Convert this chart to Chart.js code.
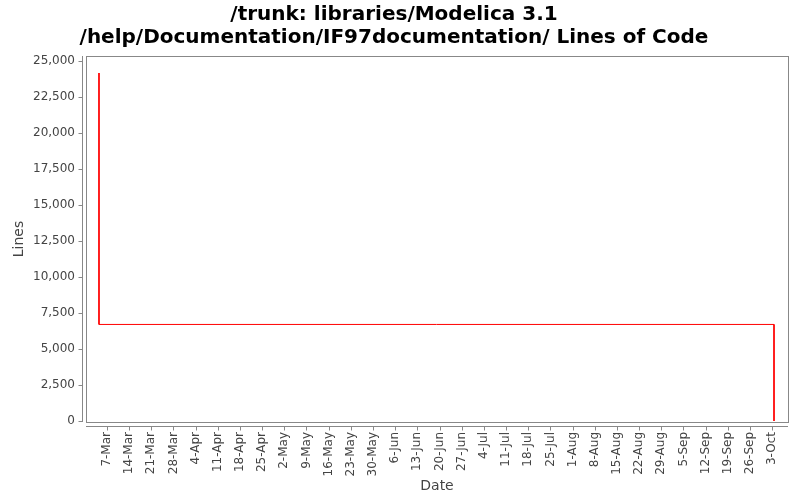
<!DOCTYPE html>
<html>
<head>
<meta charset="utf-8">
<script src="https://cdn.jsdelivr.net/npm/chart.js@4.4.1/dist/chart.umd.min.js"></script>
<style>
  html, body { margin: 0; padding: 0; background: #fff; }
  #wrap { width: 800px; height: 500px; }
</style>
</head>
<body>
<div id="wrap"><canvas id="loc"></canvas></div>
<script>
const titleLines = ['/trunk: libraries/Modelica 3.1', '/help/Documentation/IF97documentation/ Lines of Code'];
const pointDates = ['2009-03-04T12:00Z', '2009-03-04T12:00Z', '2009-10-03T14:00Z', '2009-10-03T14:00Z'];
const lineCounts = [24150, 6700, 6700, 0];
const tickLabels = ['7-Mar', '14-Mar', '21-Mar', '28-Mar', '4-Apr', '11-Apr', '18-Apr', '25-Apr',
  '2-May', '9-May', '16-May', '23-May', '30-May', '6-Jun', '13-Jun', '20-Jun', '27-Jun',
  '4-Jul', '11-Jul', '18-Jul', '25-Jul', '1-Aug', '8-Aug', '15-Aug', '22-Aug', '29-Aug',
  '5-Sep', '12-Sep', '19-Sep', '26-Sep', '3-Oct'];
const yTicks = [0, 2500, 5000, 7500, 10000, 12500, 15000, 17500, 20000, 22500, 25000];

const year = 2009;
const months = { Jan: 0, Feb: 1, Mar: 2, Apr: 3, May: 4, Jun: 5, Jul: 6, Aug: 7, Sep: 8, Oct: 9, Nov: 10, Dec: 11 };
const origin = Date.UTC(year, 2, 7);
const DAY = 864e5;

// dates become day offsets from 7-Mar
const toDay = (ms) => (ms - origin) / DAY;
const labelDay = (lbl) => {
  const [d, m] = lbl.split('-');
  return toDay(Date.UTC(year, months[m], +d));
};
const tickDays = tickLabels.map(labelDay);
const points = pointDates.map((d, i) => ({ x: toDay(Date.parse(d)), y: lineCounts[i] }));

const axisGray = '#888888';
const textGray = '#444444';

// plot frame plus detached axis lines with outward tick marks
const framePlugin = {
  id: 'frame',
  afterDraw(chart) {
    const { ctx, chartArea: a, scales } = chart;
    ctx.save();
    ctx.strokeStyle = axisGray;
    ctx.lineWidth = 1;
    ctx.strokeRect(Math.round(a.left) + 0.5, Math.round(a.top) + 0.5,
      Math.round(a.right - a.left), Math.round(a.bottom - a.top));

    const yx = Math.round(a.left) - 4 + 0.5;
    ctx.beginPath();
    ctx.moveTo(yx, a.top);
    ctx.lineTo(yx, a.bottom);
    scales.y.ticks.forEach(t => {
      const py = Math.round(scales.y.getPixelForValue(t.value)) + 0.5;
      ctx.moveTo(yx - 4, py);
      ctx.lineTo(yx, py);
    });
    const xy = Math.round(a.bottom) + 4 + 0.5;
    ctx.moveTo(a.left, xy);
    ctx.lineTo(a.right, xy);
    scales.x.ticks.forEach(t => {
      const px = Math.round(scales.x.getPixelForValue(t.value)) + 0.5;
      ctx.moveTo(px, xy);
      ctx.lineTo(px, xy + 4);
    });
    ctx.stroke();
    ctx.restore();
  }
};

new Chart(document.getElementById('loc').getContext('2d'), {
  type: 'line',
  data: {
    datasets: [{
      data: points,
      borderColor: '#ff0000',
      borderWidth: 1,
      pointRadius: 0,
      tension: 0,
      fill: false
    }]
  },
  options: {
    responsive: true, maintainAspectRatio: false,
    animation: false,
    layout: { padding: { left: 0, right: 12, top: 0, bottom: 0 } },
    plugins: {
      legend: { display: false },
      tooltip: { enabled: false },
      title: {
        display: true,
        text: titleLines,
        color: '#000',
        font: { family: 'DejaVu Sans', size: 20, weight: 'bold', lineHeight: 1.15 },
        padding: { top: 3, bottom: 7 }
      }
    },
    scales: {
      x: {
        type: 'linear',
        min: -6.6, max: 215,
        afterBuildTicks: (s) => { s.ticks = tickDays.map(v => ({ value: v })); },
        afterFit: (s) => { s.height = 78; },
        ticks: {
          autoSkip: false, minRotation: 90, maxRotation: 90, padding: 10,
          color: textGray, font: { family: 'DejaVu Sans', size: 12 },
          callback: (v, i) => tickLabels[i]
        },
        grid: { display: true, drawOnChartArea: false, drawTicks: false },
        border: { display: false },
        title: {
          display: true, text: 'Date', color: textGray,
          font: { family: 'DejaVu Sans', size: 14 },
          padding: { top: 0, bottom: 5 }
        }
      },
      y: {
        type: 'linear',
        min: -70, max: 25330,
        afterBuildTicks: (s) => { s.ticks = yTicks.map(v => ({ value: v })); },
        afterFit: (s) => { s.width = 86; },
        ticks: {
          padding: 11,
          color: textGray, font: { family: 'DejaVu Sans', size: 12 },
          callback: (v) => v.toLocaleString('en-US')
        },
        grid: { display: true, drawOnChartArea: false, drawTicks: false },
        border: { display: false },
        title: {
          display: true, text: 'Lines', color: textGray,
          font: { family: 'DejaVu Sans', size: 14 },
          padding: { top: 11, bottom: 0 }
        }
      }
    }
  },
  plugins: [framePlugin]
});
</script>
</body>
</html>
